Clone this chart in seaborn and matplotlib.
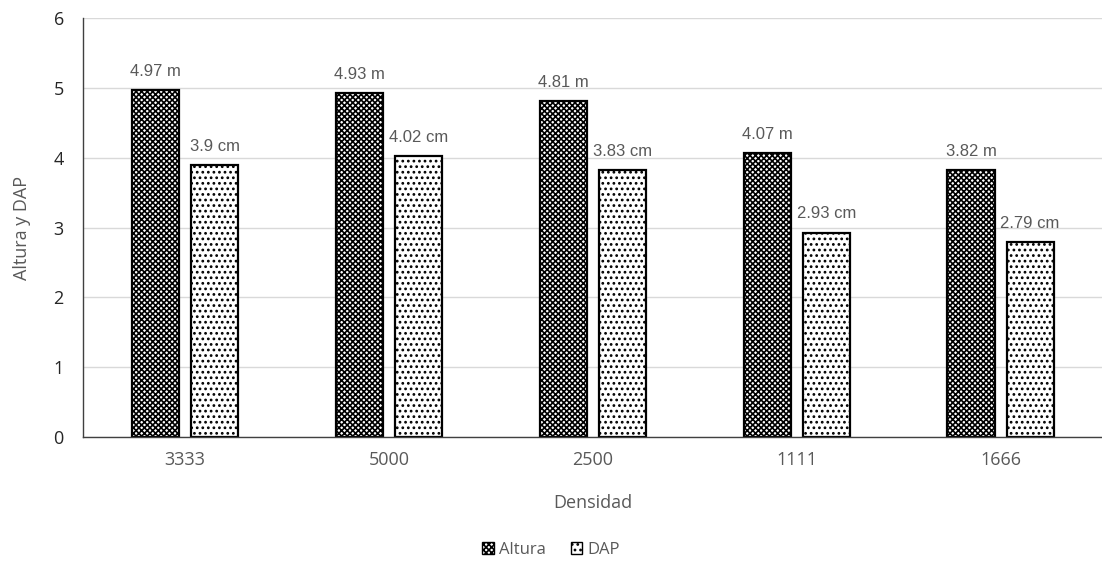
import pandas as pd
import seaborn as sns
import matplotlib.pyplot as plt
import matplotlib as mpl

# Values
densidad = ['3333', '5000', '2500', '1111', '1666']
altura = [4.97, 4.93, 4.81, 4.07, 3.82]
dap = [3.9, 4.02, 3.83, 2.93, 2.79]
altura_labels = ['4.97 m', '4.93 m', '4.81 m', '4.07 m', '3.82 m']
dap_labels = ['3.9 cm', '4.02 cm', '3.83 cm', '2.93 cm', '2.79 cm']

df = pd.DataFrame({'Densidad': densidad * 2,
                   'valor': altura + dap,
                   'serie': ['Altura'] * 5 + ['DAP'] * 5})

sns.set_theme(style="white")
plt.rcParams['font.family'] = ['Open Sans', 'DejaVu Sans']
plt.rcParams['hatch.linewidth'] = 1.2

fig = plt.figure(figsize=(11.02, 5.62), dpi=100)
ax = fig.add_axes([0.0755, 0.222, 0.925, 0.746])

sns.barplot(data=df, x='Densidad', y='valor', hue='serie', order=densidad,
            palette=['white', 'white'], width=0.58, gap=0.2,
            edgecolor='black', linewidth=1.6, ax=ax, legend=False)

hatches = ['xxxxxx', '...']
for cont, h in zip(ax.containers, hatches):
    for bar in cont:
        bar.set_hatch(h)

ax.bar_label(ax.containers[0], labels=altura_labels, padding=8,
             fontsize=12, color='#595959', family='Liberation Sans')
ax.bar_label(ax.containers[1], labels=dap_labels, padding=8,
             fontsize=12, color='#595959', family='Liberation Sans')

ax.set_ylim(0, 6)
ax.set_yticks(range(7))
ax.yaxis.grid(True, color='#d9d9d9', linewidth=1)
ax.set_axisbelow(True)
for s in ['top', 'right']:
    ax.spines[s].set_visible(False)
ax.spines['left'].set_color('#404040')
ax.spines['bottom'].set_color('#404040')
ax.spines['left'].set_linewidth(1.0)
ax.spines['bottom'].set_linewidth(1.0)
ax.tick_params(axis='x', length=0, labelsize=13, colors='#595959', pad=10)
ax.tick_params(axis='y', length=0, labelsize=13, colors='#262626', pad=14)
ax.set_xlabel('Densidad', fontsize=13, color='#595959', labelpad=18)
ax.set_ylabel('Altura y DAP', fontsize=13, color='#595959', labelpad=16)

handles = [mpl.patches.Patch(facecolor='white', edgecolor='black', hatch=h, label=l)
           for h, l in zip(hatches, ['Altura', 'DAP'])]
fig.legend(handles=handles, loc='center', bbox_to_anchor=(0.5, 0.022), ncol=2,
           frameon=False, fontsize=12, handlelength=0.7, handleheight=0.7,
           handletextpad=0.3, columnspacing=1.5, labelcolor='#595959')

fig.savefig('out.png', dpi=100)
